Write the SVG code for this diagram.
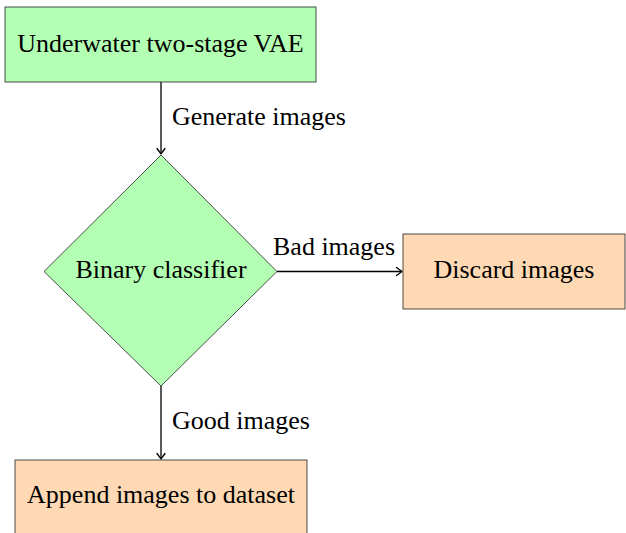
<svg xmlns="http://www.w3.org/2000/svg" width="626" height="533" viewBox="0 0 626 533">
<defs>
<style>
.green{fill:#b3ffb3;stroke:#222;stroke-width:0.8}
.orange{fill:#ffd9b3;stroke:#222;stroke-width:0.8}
.t{font-family:'Liberation Serif','Times New Roman',Times,serif;font-size:26px;fill:#000}
.c{text-anchor:middle}
.edge{stroke:#000;stroke-width:1.3;fill:none}
</style>
<marker id="arr" markerUnits="userSpaceOnUse" viewBox="-7 -5 8 10" refX="0" refY="0" markerWidth="8" markerHeight="10" orient="auto" overflow="visible">
<path d="M-5.5,-4 Q-1.5,-1 0,0 Q-1.5,1 -5.5,4" fill="none" stroke="#000" stroke-width="1.3" stroke-linecap="round" stroke-linejoin="round"/>
</marker>
</defs>
<rect width="626" height="533" fill="#fff"/>
<g id="edges">
<line class="edge" x1="161" y1="82" x2="161" y2="154" marker-end="url(#arr)"/>
<line class="edge" x1="277" y1="271.5" x2="402" y2="271.5" marker-end="url(#arr)"/>
<line class="edge" x1="161" y1="386" x2="161" y2="459" marker-end="url(#arr)"/>
<text class="t" font-family="Liberation Serif, serif" x="172" y="125">Generate images</text>
<text class="t" font-family="Liberation Serif, serif" x="273" y="255">Bad images</text>
<text class="t" font-family="Liberation Serif, serif" x="172" y="429">Good images</text>
</g>
<g id="vae">
<rect class="green" x="5" y="7" width="311" height="75"/>
<text class="t c" font-family="Liberation Serif, serif" x="160.5" y="52">Underwater two-stage VAE</text>
</g>
<g id="classifier">
<polygon class="green" points="161,155 277,271.5 161,386 44,271.5"/>
<text class="t c" font-family="Liberation Serif, serif" x="161" y="278">Binary classifier</text>
</g>
<g id="discard">
<rect class="orange" x="403" y="234" width="222" height="75"/>
<text class="t c" font-family="Liberation Serif, serif" x="514" y="278">Discard images</text>
</g>
<g id="append">
<rect class="orange" x="15" y="460" width="292" height="80"/>
<text class="t c" font-family="Liberation Serif, serif" x="161" y="503">Append images to dataset</text>
</g>
</svg>
